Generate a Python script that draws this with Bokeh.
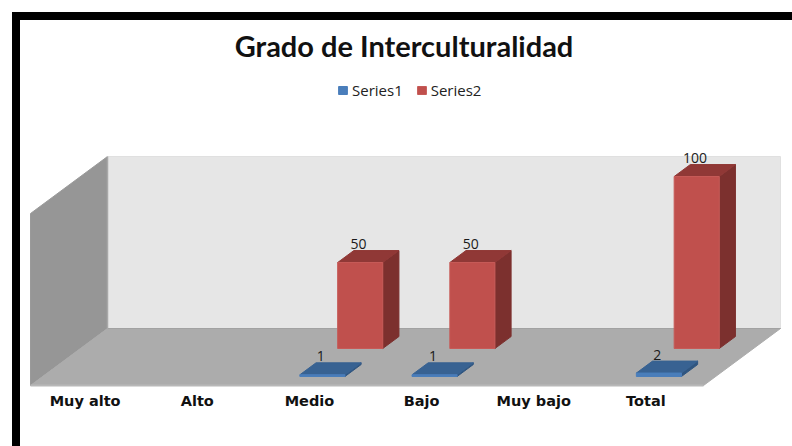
from bokeh.plotting import figure
from bokeh.models import Range1d, Legend, LegendItem
from bokeh.core.properties import value
from bokeh.embed import file_html
from bokeh.resources import INLINE

title_text = "Grado de Interculturalidad"
categories = ["Muy alto", "Alto", "Medio", "Bajo", "Muy bajo", "Total"]
series1_name = "Series1"
series2_name = "Series2"
series1 = [None, None, 1, 1, None, 2]
series2 = [None, None, 50, 50, None, 100]
axis_max = 100

W, H = 792, 446
PAGE = 0
# scales: one category and one value unit in pixels; floor corner on the page
CAT_PX, VAL_PX = 673 / 6, 1.72
X0, Y0 = 30, 385
DEPTH_X, DEPTH_Y = 77 / CAT_PX, 57 / VAL_PX
BAR_OFF, BAR_W = 0.293, 0.402
S1_D, S2_D, BAR_D = 0.158, 0.649, 0.21


def U(px):
    return (px - X0) / CAT_PX


def V(py):
    return (Y0 - py) / VAL_PX


def proj(u, d, v):
    return u + d * DEPTH_X, v + d * DEPTH_Y


def poly(*pts):
    pp = [proj(*q) for q in pts]
    return [q[0] for q in pp], [q[1] for q in pp]


p = figure(width=W, height=H, output_backend="svg", toolbar_location=None,
           x_range=Range1d(U(PAGE), U(PAGE + W)), y_range=Range1d(V(PAGE + H), V(PAGE)),
           min_border=0, min_border_left=0, min_border_right=0, min_border_top=0, min_border_bottom=0,
           x_axis_location=None, y_axis_location=None, tools="")
p.grid.visible = False
p.outline_line_color = None
p.background_fill_color = "white"
p.border_fill_color = "white"

# black frame of the picture (runs off the page on the right and at the bottom)
p.quad(left=[U(11.5), U(11.5)], right=[U(19.5), U(PAGE + W)],
       bottom=[V(PAGE + H), V(19.5)], top=[V(11.5), V(11.5)],
       fill_color="black", line_color=None)

n = len(categories)
xs, ys = poly((0, 0, 0), (0, 1, 0), (0, 1, axis_max), (0, 0, axis_max))
p.patch(xs, ys, fill_color="#969696", line_color="#9a9a9a", line_width=1)
xs, ys = poly((0, 1, 0), (n, 1, 0), (n, 1, axis_max), (0, 1, axis_max))
p.patch(xs, ys, fill_color="#e6e6e6", line_color="#e0e0e0", line_width=1)
xs, ys = poly((0, 0, 0), (n, 0, 0), (n, 1, 0), (0, 1, 0))
p.patch(xs, ys, fill_color="#acacac", line_color="#acacac", line_width=1)
xs, ys = poly((0, 0, 0), (n, 0, 0))
p.line(xs, ys, line_color="#b8b8b8", line_width=2)
xs, ys = poly((0, 1, 0), (n, 1, 0))
p.line(xs, ys, line_color="#a2a2a2", line_width=1)
xs, ys = poly((0, 1, 0), (0, 1, axis_max))
p.line(xs, ys, line_color="#a8a8a8", line_width=1.5)


def bars(vals, d0, front, top, side, edge):
    fx, fy, tx, ty, sx, sy, lx, ly, lt = [], [], [], [], [], [], [], [], []
    d1 = d0 + BAR_D
    for i, val in enumerate(vals):
        if val is None:
            continue
        a, b = i + BAR_OFF, i + BAR_OFF + BAR_W
        x, y = poly((a, d0, 0), (b, d0, 0), (b, d0, val), (a, d0, val))
        fx.append(x); fy.append(y)
        x, y = poly((a, d0, val), (b, d0, val), (b, d1, val), (a, d1, val))
        tx.append(x); ty.append(y)
        x, y = poly((b, d0, 0), (b, d1, 0), (b, d1, val), (b, d0, val))
        sx.append(x); sy.append(y)
        c, v = proj(a + BAR_W / 2, d1, val)
        lx.append(c - BAR_W * 0.35); ly.append(v)
        lt.append(str(val))
    p.patches(sx, sy, fill_color=side, line_color=side, line_width=1)
    p.patches(tx, ty, fill_color=top, line_color=top, line_width=1)
    r = p.patches(fx, fy, fill_color=front, line_color=edge, line_width=1)
    p.text(lx, ly, text=lt, text_font=value("Open Sans"), text_font_size="14px",
           text_color="#1a1a1a", text_align="center", text_baseline="middle",
           y_offset=-6.5, x_offset=-2)
    return r


r2 = bars(series2, S2_D, "#c0504d", "#903836", "#7c302e", "#c65a57")
r1 = bars(series1, S1_D, "#4a7ebb", "#386292", "#2f5580", "#4a7ebb")

# category labels
p.text([i + 0.5 for i in range(n)], [V(400)] * n, text=categories,
       text_font=value("DejaVu Sans"), text_font_style="bold", text_font_size="14.5px",
       text_color="#111111", text_align="center", text_baseline="middle", x_offset=-1.5)

# title
p.text([U(403.5)], [V(44.5)], text=[title_text], text_font=value("Lato"),
       text_font_style="bold", text_font_size="29px", text_color="#111111",
       text_align="center", text_baseline="middle")

legend = Legend(items=[LegendItem(label=series1_name, renderers=[r1]),
                       LegendItem(label=series2_name, renderers=[r2])],
                orientation="horizontal", location=(337, H - 100),
                glyph_width=11, glyph_height=10, label_standoff=4, spacing=13,
                padding=0, margin=0, border_line_color=None, background_fill_color=None,
                label_text_font="Open Sans", label_text_font_size="15px",
                label_text_color="#222222", label_height=10, label_text_baseline="middle")
p.add_layout(legend, "center")

open("out.html", "w").write(file_html(p, INLINE))
